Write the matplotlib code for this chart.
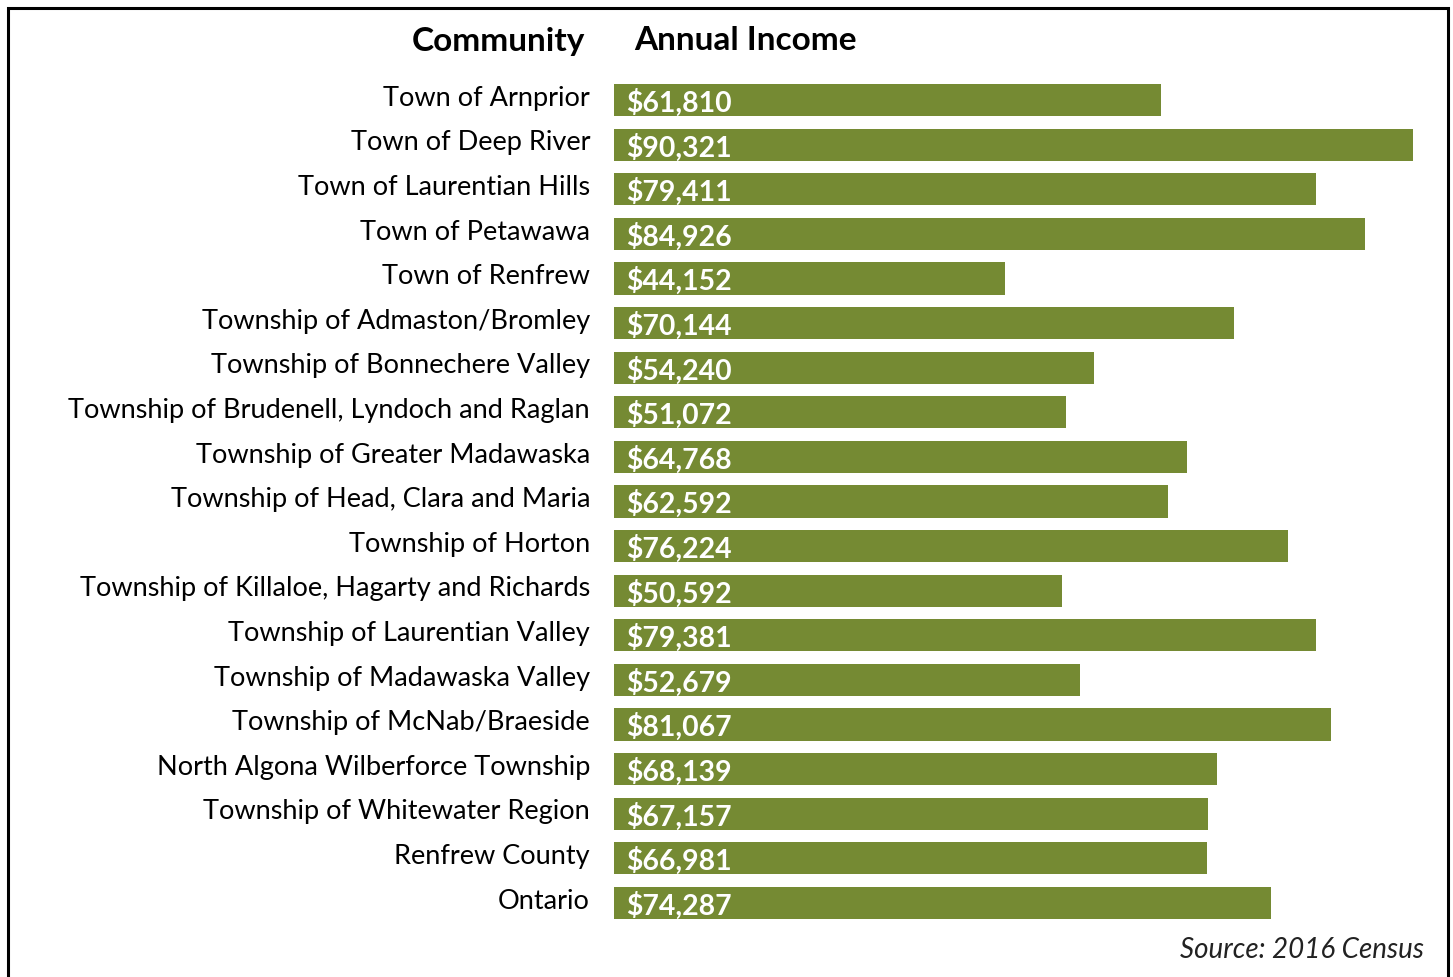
import matplotlib.pyplot as plt
from matplotlib.patches import Rectangle

# datos
comunidades = [
    "Town of Arnprior", "Town of Deep River", "Town of Laurentian Hills",
    "Town of Petawawa", "Town of Renfrew", "Township of Admaston/Bromley",
    "Township of Bonnechere Valley", "Township of Brudenell, Lyndoch and Raglan",
    "Township of Greater Madawaska", "Township of Head, Clara and Maria",
    "Township of Horton", "Township of Killaloe, Hagarty and Richards",
    "Township of Laurentian Valley", "Township of Madawaska Valley",
    "Township of McNab/Braeside", "North Algona Wilberforce Township",
    "Township of Whitewater Region", "Renfrew County", "Ontario",
]
ingresos = [61810, 90321, 79411, 84926, 44152, 70144, 54240, 51072, 64768,
            62592, 76224, 50592, 79381, 52679, 81067, 68139, 67157, 66981, 74287]

verde = "#758A33"
plt.rcParams['font.family'] = ['Lato', 'DejaVu Sans']

W, H = 1453, 977
fig = plt.figure(figsize=(W / 100, H / 100), dpi=100)

# ejes: x=0 en 614 px, 0.008846 px por dolar
x0 = 614
xmax = 94000
ancho = xmax * 0.008846
top, bottom = 77.7, 925.3
ax = fig.add_axes([x0 / W, 1 - bottom / H, ancho / W, (bottom - top) / H])

pos = list(range(len(comunidades)))
ax.barh(pos, ingresos, height=0.72, color=verde)
ax.set_xlim(0, xmax)
ax.set_ylim(len(comunidades) - 0.5, -0.5)
ax.axis('off')

for i, (nombre, v) in enumerate(zip(comunidades, ingresos)):
    ax.text(-2700, i - 0.04, nombre, ha='right', va='center', fontsize=19.5, color='black')
    ax.text(1350, i + 0.06, f"${v:,}", ha='left', va='center', fontsize=20.4,
            fontweight='bold', color='white')

# encabezados
fig.text(585 / W, 1 - 41 / H, "Community", ha='right', va='center',
         fontsize=24, fontweight='bold')
fig.text(634 / W, 1 - 41 / H, "Annual Income", ha='left', va='center',
         fontsize=24, fontweight='bold')

fig.text(1424 / W, 1 - 950 / H, "Source: 2016 Census", ha='right', va='center',
         fontsize=20, style='italic', color='#222222')

# marco
fig.patches.append(Rectangle((7.5 / W, -0.01), 1440 / W, 1 - 8 / H + 0.01,
                             transform=fig.transFigure, fill=False,
                             edgecolor='black', linewidth=2.2))

fig.savefig("out.png", dpi=100)
